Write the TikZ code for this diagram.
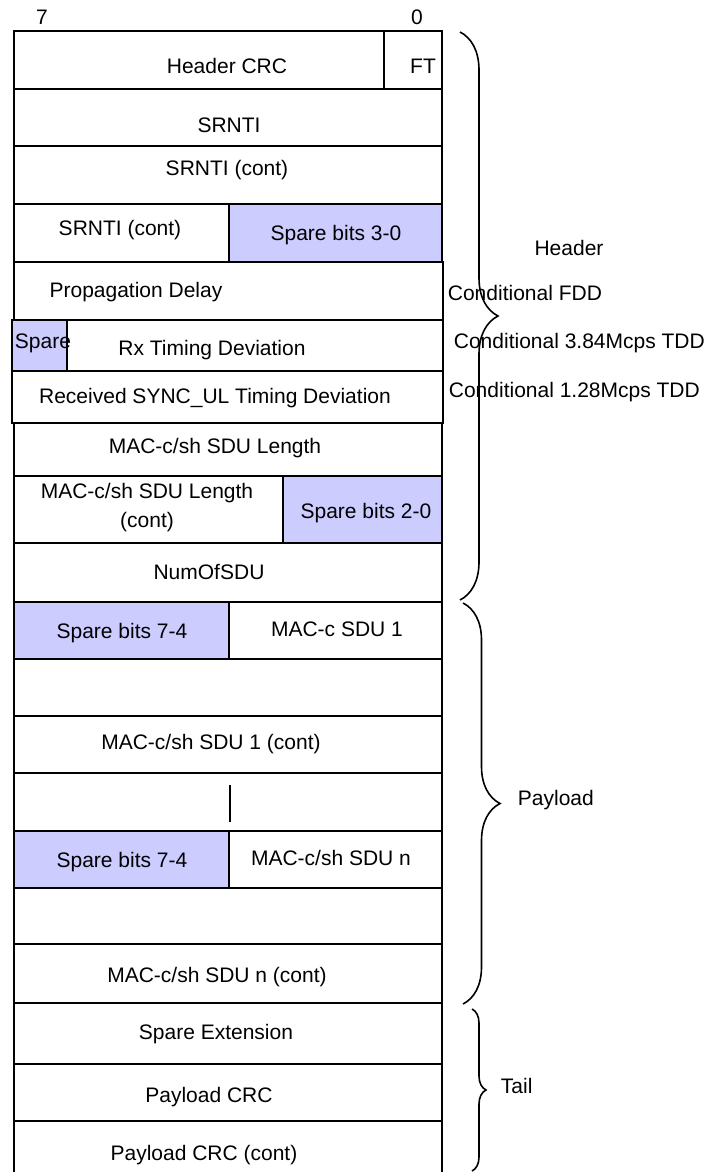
\documentclass[tikz,border=0pt]{standalone}
\usepackage{fontspec}
\setmainfont{Liberation Sans}
\usetikzlibrary{decorations.pathreplacing}
\definecolor{sparebits}{RGB}{204,204,255}

\begin{document}
\begin{tikzpicture}[x = 0.5pt, y = -0.5pt, line width = 0.9pt,
                    font = \fontsize{10.5}{14.5}\selectfont,
                    field/.style = {draw},
                    spare/.style = {draw, fill = sparebits},
                    txt/.style = {inner sep = 0pt},
                    note/.style = {inner sep = 0pt, anchor = west},
                    curly/.style = {decorate, decoration = {brace, amplitude = #1}, line width = 0.8pt}]
      \useasboundingbox (0, 0) rectangle (705, 1172);
      % bit numbers
      \node [txt] (msb) at (42, 17) {7};
      \node [txt] (lsb) at (417, 17) {0};
      % header rows
      \foreach \top/\bot in {31/89, 89/146, 146/204, 204/262, 423/476, 476/543, 543/602}
        \draw [field] (14, \top) rectangle (442, \bot);
      \draw [field] (14, 262) rectangle (443, 320);
      \draw [field] (12, 320) rectangle (443, 371);
      \draw [field] (12, 371) rectangle (443, 423);
      \draw (384, 31) -- (384, 89);
      \draw [spare] (229, 204) rectangle (442, 262);
      \draw [spare] (12, 320) rectangle (67, 371);
      \draw [spare] (283, 476) rectangle (442, 543);
      % payload rows
      \foreach \top/\bot in {602/659, 659/716, 716/773, 773/831, 831/888, 888/944, 944/1003}
        \draw [field] (14, \top) rectangle (442, \bot);
      \draw [spare] (14, 602) rectangle (229, 659);
      \draw [spare] (14, 831) rectangle (229, 888);
      \draw (230, 785) -- (230, 822);
      % tail rows
      \foreach \top/\bot in {1003/1064, 1064/1121}
        \draw [field] (14, \top) rectangle (442, \bot);
      \draw (14, 1172) -- (14, 1121) -- (442, 1121) -- (442, 1172);
      % field names
      \node [txt] (hcrc) at (227, 66) {Header CRC};
      \node [txt] (ft) at (423, 66) {FT};
      \node [txt] (srnti) at (229, 125) {SRNTI};
      \node [txt] (srnti1) at (227, 170) {SRNTI (cont)};
      \node [txt] (srnti2) at (120, 230) {SRNTI (cont)};
      \node [txt] (spare30) at (336, 235) {Spare bits 3-0};
      \node [txt] (pdelay) at (136, 292) {Propagation Delay};
      \node [txt] (sparetd) at (43, 343) {Spare};
      \node [txt] (rxtd) at (212, 350) {Rx Timing Deviation};
      \node [txt] (synctd) at (215, 398) {Received SYNC\_UL Timing Deviation};
      \node [txt] (sdulen) at (215, 448) {MAC-c/sh SDU Length};
      \node [txt, align = center] (sdulen1) at (147, 508) {MAC-c/sh SDU Length\\(cont)};
      \node [txt] (spare20) at (366, 513) {Spare bits 2-0};
      \node [txt] (numsdu) at (209, 572) {NumOfSDU};
      \node [txt] (spare74a) at (122, 633) {Spare bits 7-4};
      \node [txt] (sdu1) at (337, 629) {MAC-c SDU 1};
      \node [txt] (sdu1c) at (211, 744) {MAC-c/sh SDU 1 (cont)};
      \node [txt] (spare74b) at (122, 862) {Spare bits 7-4};
      \node [txt] (sdun) at (331, 858) {MAC-c/sh SDU n};
      \node [txt] (sdunc) at (217, 977) {MAC-c/sh SDU n (cont)};
      \node [txt] (spext) at (216, 1034) {Spare Extension};
      \node [txt] (pcrc) at (209, 1097) {Payload CRC};
      \node [txt] (pcrc1) at (204, 1155) {Payload CRC (cont)};
      % braces
      \coordinate (hdtop) at (460, 32);
      \coordinate (hdbot) at (460, 600);
      \draw [curly = 19pt] (hdtop) -- (hdbot);
      \node [txt] (hdr) at (569, 248) {Header};
      \node [note] (cfdd) at (447, 293) {Conditional FDD};
      \node [note] (c384) at (453, 343) {Conditional 3.84Mcps TDD};
      \node [note] (c128) at (448, 392) {Conditional 1.28Mcps TDD};
      \coordinate (pltop) at (463, 603);
      \coordinate (plbot) at (463, 1004);
      \draw [curly = 18.5pt] (pltop) -- (plbot);
      \node [note] (pl) at (517, 800) {Payload};
      \coordinate (tltop) at (472, 1009);
      \coordinate (tlbot) at (472, 1171);
      \draw [curly = 7pt] (tltop) -- (tlbot);
      \node [note] (tl) at (500, 1086) {Tail};
    \end{tikzpicture}
\end{document}
